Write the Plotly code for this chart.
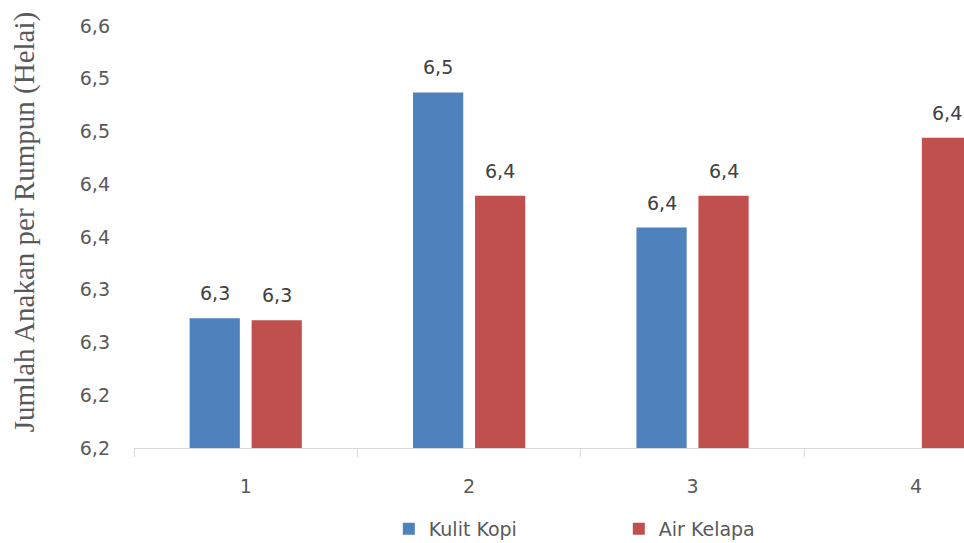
import plotly.graph_objects as go

# Mean tiller count per clump for each treatment level
categories = ["1", "2", "3", "4"]
kulit_kopi = [6.273, 6.487, 6.359, None]
air_kelapa = [6.271, 6.389, 6.389, 6.444]

y_tickvals = [6.15, 6.20, 6.25, 6.30, 6.35, 6.40, 6.45, 6.50, 6.55]
y_ticktext = ["6,2", "6,2", "6,3", "6,3", "6,4", "6,4", "6,5", "6,5", "6,6"]

BLUE = "#4F81BD"
RED = "#C0504D"
TEXT = "#595959"
BARGAP = 0.445
BARGROUPGAP = 0.19
FONT = "DejaVu Sans"
FSIZE = 19

fig = go.Figure()
fig.add_trace(go.Bar(x=categories, y=kulit_kopi, name="Kulit Kopi",
                     marker=dict(color=BLUE, line=dict(width=0))))
fig.add_trace(go.Bar(x=categories, y=air_kelapa, name="Air Kelapa",
                     marker=dict(color=RED, line=dict(width=0))))

# value labels above each bar, centred on its slot within the group
slot = (1 - BARGAP) / 2
series = [kulit_kopi, air_kelapa]
for s_idx, vals in enumerate(series):
    shift = (s_idx - (len(series) - 1) / 2) * slot
    for i, v in enumerate(vals):
        if v is None:
            continue
        fig.add_annotation(x=i + shift, y=v, xref="x", yref="y",
                           text=f"{v:.1f}".replace(".", ","),
                           showarrow=False, yanchor="bottom", yshift=12,
                           font=dict(family=FONT, size=FSIZE, color="#404040"))

# rotated serif axis title
fig.add_annotation(xref="paper", yref="paper", x=-0.132, y=0.536,
                   text="Jumlah Anakan per Rumpun (Helai)", textangle=-90,
                   showarrow=False, xanchor="center", yanchor="middle",
                   font=dict(family="Liberation Serif", size=29, color=TEXT))

fig.update_layout(
    width=964, height=543,
    margin=dict(l=134, r=0, t=26, b=95, autoexpand=False),
    paper_bgcolor="white", plot_bgcolor="white",
    barmode="group", bargap=BARGAP, bargroupgap=BARGROUPGAP,
    font=dict(family=FONT, size=FSIZE, color=TEXT),
    showlegend=True,
    legend=dict(orientation="h", x=0.307, xanchor="left", y=-0.192,
                yanchor="middle", entrywidth=185, itemwidth=30,
                font=dict(family=FONT, size=FSIZE, color=TEXT)),
)
fig.update_xaxes(type="category", range=[-0.5, 3.215],
                 showline=True, linecolor="#D9D9D9", linewidth=1,
                 ticks="outside", tickson="boundaries", ticklen=8,
                 tickcolor="#D9D9D9", ticklabelstandoff=21,
                 showgrid=False, zeroline=False, automargin=False,
                 tickfont=dict(family=FONT, size=FSIZE, color=TEXT))
fig.update_yaxes(range=[6.15, 6.55], tickvals=y_tickvals, ticktext=y_ticktext,
                 showline=False, showgrid=False, zeroline=False, ticks="",
                 ticklabelstandoff=23, automargin=False,
                 tickfont=dict(family=FONT, size=FSIZE, color=TEXT))

fig.write_html("out.html")
